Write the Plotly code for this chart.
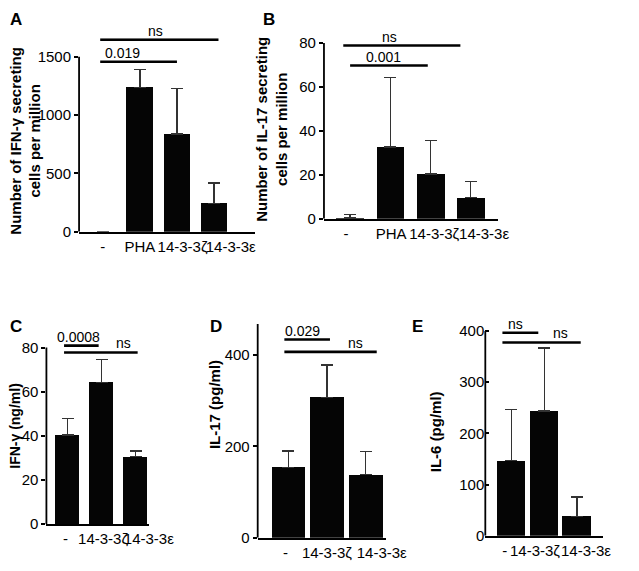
import plotly.graph_objects as go

# the page body adds an 8px margin, so the figure is drawn 8px smaller and
# every pixel position below (measured on the 639x571 reference) is shifted
OFF = 8
W, H = 639 - OFF, 571 - OFF
FONT = "Liberation Sans, Arial, sans-serif"


def fx(px):
    return (px - OFF) / W


def fy(py):
    return 1 - (py - OFF) / H


# ---- data ----
a_cats = ["-", "PHA", "14-3-3ζ", "14-3-3ε"]
a_vals = [0, 1236, 839, 244]
a_err = [None, 158, 388, 173]
a_sig_x0 = [-0.07, -0.07]
a_sig_x1 = [2.0, 3.12]
a_sig_y = [1458, 1647]
a_sig_text = ["0.019", "ns"]
a_sig_tx = [0.54, 1.43]

b_cats = ["-", "PHA", "14-3-3ζ", "14-3-3ε"]
b_vals = [0.3, 32.7, 20.3, 9.6]
b_err = [1.8, 31.7, 15.4, 7.5]
b_sig_x0 = [0, -0.17]
b_sig_x1 = [1.93, 2.74]
b_sig_y = [69.7, 78.8]
b_sig_text = ["0.001", "ns"]
b_sig_tx = [0.84, 0.98]

c_cats = ["-", "14-3-3ζ", "14-3-3ε"]
c_vals = [40.4, 64.3, 30.5]
c_err = [7.6, 10.2, 2.7]
c_sig_x0 = [-0.11, -0.11]
c_sig_x1 = [0.91, 2.06]
c_sig_y = [80.9, 77.8]
c_sig_text = ["0.0008", "ns"]
c_sig_tx = [0.33, 1.63]

d_cats = ["-", "14-3-3ζ", "14-3-3ε"]
d_vals = [154, 307, 138]
d_err = [36, 71, 51]
d_sig_x0 = [-0.1, -0.1]
d_sig_x1 = [1.08, 2.29]
d_sig_y = [434, 407]
d_sig_text = ["0.029", "ns"]
d_sig_tx = [0.38, 1.75]

e_cats = ["-", "14-3-3ζ", "14-3-3ε"]
e_vals = [147, 244, 38]
e_err = [99, 123, 38]
e_sig_x0 = [-0.27, -0.27]
e_sig_x1 = [0.82, 2.11]
e_sig_y = [396.6, 377.6]
e_sig_text = ["ns", "ns"]
e_sig_tx = [0.14, 1.49]

# ---- layout per panel (pixel placement on the reference) ----
panels = [
    dict(letter="A", cats=a_cats, vals=a_vals, err=a_err,
         sig=(a_sig_x0, a_sig_x1, a_sig_y, a_sig_text, a_sig_tx),
         title="Number of IFN-γ secreting<br>cells per million", title_size=15,
         left=82, right=265, zero=230, scale=0.12, top=1660, xr=[-0.64, 4.1],
         bw=0.72, axis_top=1500, dtick=500, ticks="outside",
         label_x=[0, 1.0, 2.15, 3.45],
         title_pos=(26, 136), letter_pos=(5, 12)),
    dict(letter="B", cats=b_cats, vals=b_vals, err=b_err,
         sig=(b_sig_x0, b_sig_x1, b_sig_y, b_sig_text, b_sig_tx),
         title="Number of IL-17 secreting<br>cells per million", title_size=15,
         left=337, right=518, zero=216.7, scale=2.2625, top=81, xr=[-0.65, 3.67],
         bw=0.69, axis_top=80, dtick=20, ticks="outside",
         label_x=[-0.1, 1.02, 2.09, 3.33],
         title_pos=(283, 125), letter_pos=(271, 12)),
    dict(letter="C", cats=c_cats, vals=c_vals, err=c_err,
         sig=(c_sig_x0, c_sig_x1, c_sig_y, c_sig_text, c_sig_tx),
         title="IFN-γ (ng/ml)", title_size=14,
         left=48, right=155, zero=531, scale=2.271, top=82, xr=[-0.63, 2.4],
         bw=0.71, axis_top=80, dtick=20, ticks="outside",
         label_x=[-0.07, 1.04, 2.39],
         title_pos=(15, 430), letter_pos=(5, 328)),
    dict(letter="D", cats=d_cats, vals=d_vals, err=d_err,
         sig=(d_sig_x0, d_sig_x1, d_sig_y, d_sig_text, d_sig_tx),
         title="IL-17 (pg/ml)", title_size=15,
         left=268, right=402, zero=545, scale=0.47, top=470, xr=[-0.79, 2.54],
         bw=0.87, axis_top=468, dtick=200, ticks="outside",
         label_x=[-0.07, 1.0, 2.42],
         title_pos=(223, 408), letter_pos=(216, 328)),
    dict(letter="E", cats=e_cats, vals=e_vals, err=e_err,
         sig=(e_sig_x0, e_sig_x1, e_sig_y, e_sig_text, e_sig_tx),
         title="IL-6 (pg/ml)", title_size=15,
         left=505, right=628, zero=543, scale=0.527, top=402, xr=[-0.79, 2.8],
         bw=0.87, axis_top=400, dtick=100, ticks="inside",
         label_x=[-0.2, 0.72, 2.27],
         title_pos=(453, 436), letter_pos=(427, 328)),
]

fig = go.Figure()
shapes = []
annotations = []

for i, p in enumerate(panels):
    n = "" if i == 0 else str(i + 1)
    xa, ya = "x" + n, "y" + n
    xs = list(range(len(p["cats"])))

    fig.add_trace(go.Bar(
        x=xs, y=p["vals"], width=p["bw"], xaxis=xa, yaxis=ya,
        marker=dict(color="#050505", line=dict(width=0)),
        error_y=dict(type="data", array=p["err"], symmetric=False, arrayminus=[0] * len(xs),
                     color="#333333", thickness=1.3, width=6),
        showlegend=False,
    ))

    xdom = [fx(p["left"]), fx(p["right"])]
    ydom = [fy(p["zero"]), fy(p["zero"] - p["top"] * p["scale"])]
    fig.update_layout(**{
        "xaxis" + n: dict(domain=xdom, range=p["xr"], anchor=ya, showline=True, linecolor="black",
                          linewidth=1.8, ticks="", tickvals=p["label_x"], ticktext=p["cats"],
                          tickangle=0, showgrid=False, zeroline=False,
                          tickfont=dict(size=15, color="black")),
        "yaxis" + n: dict(domain=ydom, range=[0, p["top"]], anchor=xa, showline=False,
                          ticks=p["ticks"], ticklen=4, tickwidth=1.6, tickcolor="black",
                          dtick=p["dtick"], showgrid=False, zeroline=False,
                          tickfont=dict(size=15, color="black")),
    })

    # y axis line only up to the top tick
    shapes.append(dict(type="line", xref=xa + " domain", yref=ya, x0=0, x1=0, y0=0,
                       y1=p["axis_top"], line=dict(color="black", width=1.8)))

    # significance bars
    x0s, x1s, ys, texts, txs = p["sig"]
    for x0, x1, y, t, tx in zip(x0s, x1s, ys, texts, txs):
        shapes.append(dict(type="line", xref=xa, yref=ya, x0=x0, x1=x1, y0=y, y1=y,
                           line=dict(color="black", width=2.6)))
        annotations.append(dict(x=tx, y=y, xref=xa, yref=ya, text=t, showarrow=False,
                                xanchor="center", yanchor="bottom", yshift=-1,
                                font=dict(size=14, color="black")))

    tx_, ty_ = p["title_pos"]
    annotations.append(dict(x=fx(tx_), y=fy(ty_), xref="paper", yref="paper",
                            text="<b>" + p["title"] + "</b>", showarrow=False, textangle=-90,
                            xanchor="center", yanchor="middle",
                            font=dict(size=p["title_size"], color="black")))
    lx, ly = p["letter_pos"]
    annotations.append(dict(x=max(fx(lx), 0), y=fy(ly), xref="paper", yref="paper",
                            text="<b>" + p["letter"] + "</b>", showarrow=False,
                            xanchor="left", yanchor="middle",
                            font=dict(size=17, color="black")))

fig.update_layout(width=W, height=H, margin=dict(l=0, r=0, t=0, b=0),
                  plot_bgcolor="white", paper_bgcolor="white",
                  font=dict(family=FONT, color="black"),
                  shapes=shapes, annotations=annotations, bargap=0)

fig.write_html("out.html")
